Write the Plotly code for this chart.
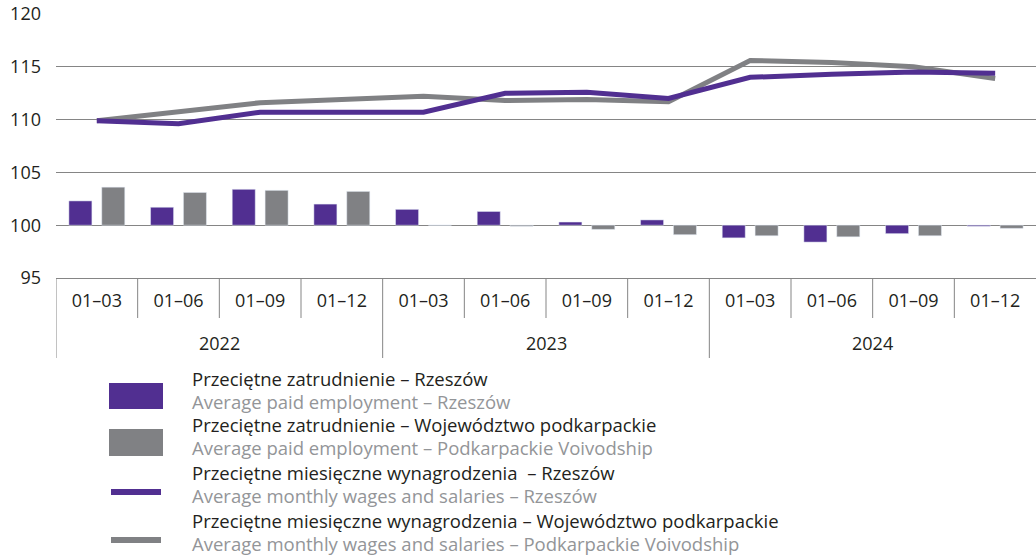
import plotly.graph_objects as go

years = ["2022", "2023", "2024"]
quarters = ["01–03", "01–06", "01–09", "01–12"] * 3

emp_rzeszow = [102.3, 101.7, 103.4, 102.0, 101.5, 101.3, 100.3, 100.5, 98.8, 98.4, 99.2, 99.9]
emp_podk = [103.6, 103.1, 103.3, 103.2, 100.0, 99.9, 99.6, 99.1, 99.0, 98.9, 99.0, 99.7]
wage_rzeszow = [109.9, 109.6, 110.7, 110.7, 110.7, 112.5, 112.6, 112.0, 114.0, 114.3, 114.5, 114.4]
wage_podk = [109.9, 110.7, 111.6, 111.9, 112.2, 111.8, 111.9, 111.7, 115.6, 115.4, 115.0, 113.9]

legend_pl = [
    "Przeciętne zatrudnienie – Rzeszów",
    "Przeciętne zatrudnienie – Województwo podkarpackie",
    "Przeciętne miesięczne wynagrodzenia  – Rzeszów",
    "Przeciętne miesięczne wynagrodzenia – Województwo podkarpackie",
]
legend_en = [
    "Average paid employment – Rzeszów",
    "Average paid employment – Podkarpackie Voivodship",
    "Average monthly wages and salaries – Rzeszów",
    "Average monthly wages and salaries – Podkarpackie Voivodship",
]

PURPLE = "#512f91"
GRAY = "#808184"
TXT = "#231f20"
TXT2 = "#939598"
AX = "#858585"
FONT = "Open Sans"
BASE = 100

n = len(quarters)
idx = list(range(n))
per_year = n // len(years)

fig = go.Figure()
fig.add_trace(go.Bar(x=idx, y=[v - BASE for v in emp_rzeszow], base=BASE,
                     marker_color=PURPLE, name=legend_pl[0]))
fig.add_trace(go.Bar(x=idx, y=[v - BASE for v in emp_podk], base=BASE,
                     marker_color=GRAY, name=legend_pl[1]))
fig.add_trace(go.Scatter(x=idx, y=wage_podk, mode="lines",
                         line=dict(color=GRAY, width=5), name=legend_pl[3]))
fig.add_trace(go.Scatter(x=idx, y=wage_rzeszow, mode="lines",
                         line=dict(color=PURPLE, width=5), name=legend_pl[2]))

L, R, T, B = 56, 0, 14, 278
W, H = 1036, 556
pw = W - L - R
ph = H - T - B


def px(xp):
    return (xp - L) / pw


def py(yp):
    return (H - B - yp) / ph


shapes = []
annotations = []

# x-axis boundaries: short ticks between quarters, long dividers between years
for i in range(n):
    if i % per_year == 0:
        continue
    shapes.append(dict(type="line", xref="x", yref="paper", x0=i - 0.5, x1=i - 0.5,
                       y0=0, y1=py(318), line=dict(color=AX, width=1)))
for k in range(len(years)):
    xb = k * per_year - 0.5
    shapes.append(dict(type="line", xref="x", yref="paper", x0=xb, x1=xb,
                       y0=0, y1=py(358), line=dict(color=AX, width=1)))
    annotations.append(dict(xref="x", yref="paper", x=k * per_year + (per_year - 1) / 2,
                            y=py(343), xanchor="center", yanchor="middle", showarrow=False,
                            text=years[k], font=dict(family=FONT, size=18, color=TXT)))

# legend symbols
shapes.append(dict(type="rect", xref="paper", yref="paper", x0=px(109), x1=px(163),
                   y0=py(409), y1=py(383), fillcolor=PURPLE, line_width=0))
shapes.append(dict(type="rect", xref="paper", yref="paper", x0=px(109), x1=px(163),
                   y0=py(456), y1=py(429), fillcolor=GRAY, line_width=0))
shapes.append(dict(type="line", xref="paper", yref="paper", x0=px(111), x1=px(161),
                   y0=py(492), y1=py(492), line=dict(color=PURPLE, width=6)))
shapes.append(dict(type="line", xref="paper", yref="paper", x0=px(111), x1=px(161),
                   y0=py(540), y1=py(540), line=dict(color=GRAY, width=6)))

ys_pl = [378, 424, 472, 520]
for i in range(4):
    annotations.append(dict(xref="paper", yref="paper", x=px(190), y=py(ys_pl[i]),
                            xanchor="left", yanchor="middle", showarrow=False,
                            text=legend_pl[i], font=dict(family=FONT, size=18.5, color=TXT)))
    annotations.append(dict(xref="paper", yref="paper", x=px(190), y=py(ys_pl[i] + 23),
                            xanchor="left", yanchor="middle", showarrow=False,
                            text=legend_en[i], font=dict(family=FONT, size=18.5, color=TXT2)))

fig.update_layout(
    width=W, height=H,
    margin=dict(l=L, r=R, t=T, b=B, autoexpand=False),
    paper_bgcolor="white", plot_bgcolor="white",
    barmode="group", bargap=0.195, bargroupgap=0.3,
    showlegend=False,
    font=dict(family=FONT, size=18, color=TXT),
    shapes=shapes, annotations=annotations,
)
fig.update_yaxes(range=[95, 120], dtick=5, showgrid=True, gridcolor=AX, gridwidth=1,
                 zeroline=False, showline=False, ticks="", ticklabelstandoff=14,
                 automargin=False, tickfont=dict(family=FONT, size=18, color=TXT))
fig.update_xaxes(range=[-0.5, n - 0.5], tickmode="array", tickvals=idx, ticktext=quarters,
                 showline=True, linecolor=AX, linewidth=1, ticks="", ticklabelstandoff=6,
                 showgrid=False, zeroline=False, automargin=False,
                 tickfont=dict(family=FONT, size=18, color=TXT))

fig.write_html("out.html", config={"displayModeBar": False},
               post_script="document.body.style.margin='0';document.body.style.overflow='hidden';")
